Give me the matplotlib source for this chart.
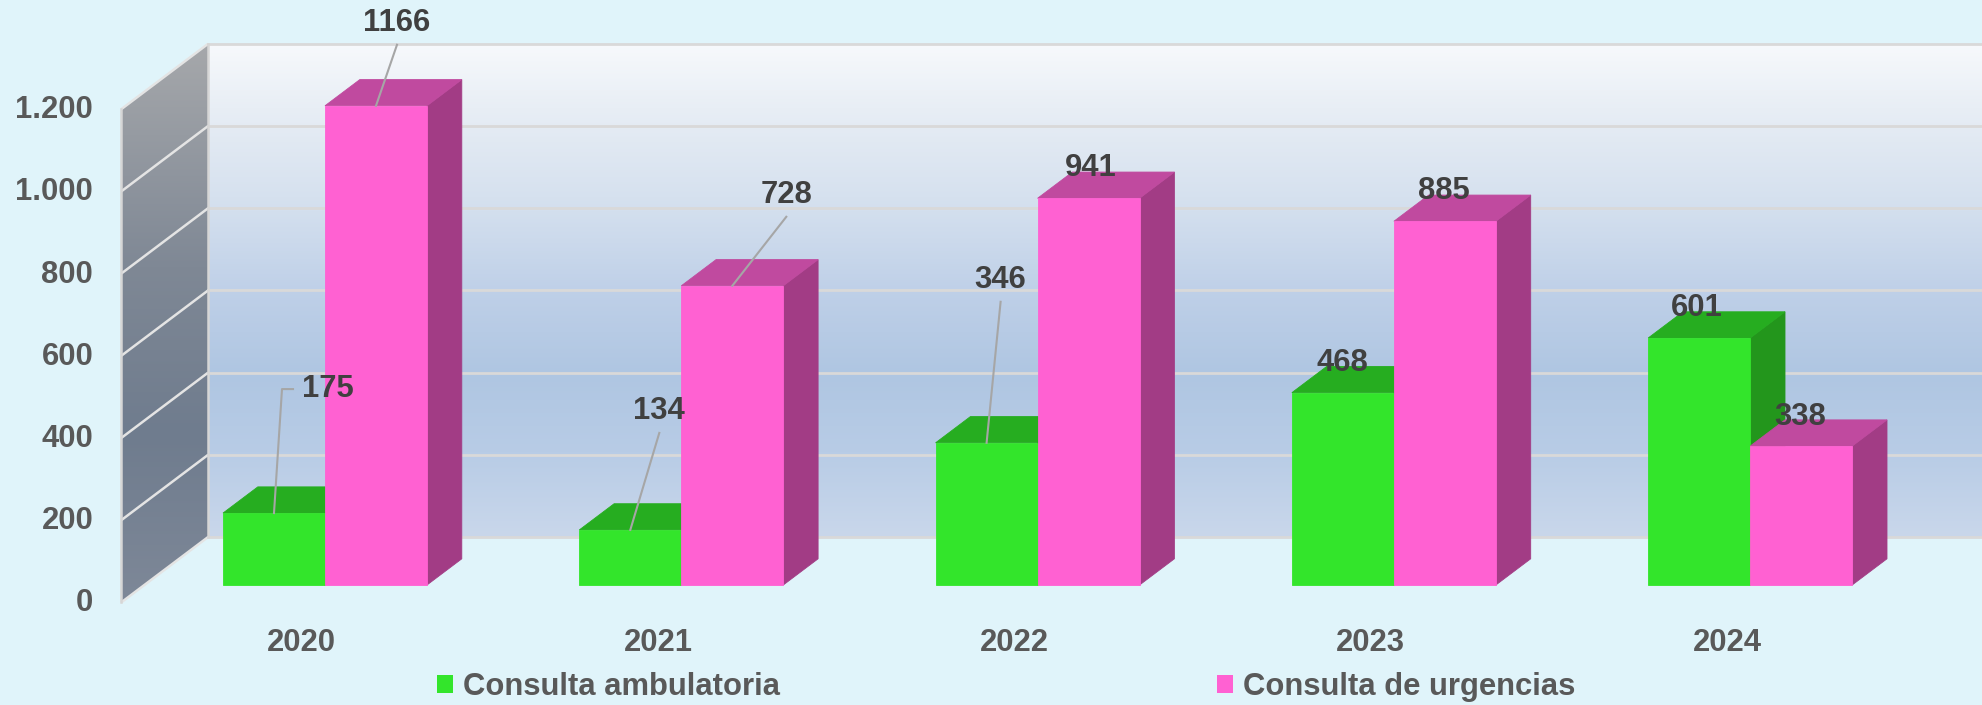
import numpy as np
import matplotlib
matplotlib.use('Agg')
import matplotlib.pyplot as plt
from matplotlib.patches import Polygon, Patch
from matplotlib.colors import LinearSegmentedColormap

# ---------------- data ----------------
years = ['2020', '2021', '2022', '2023', '2024']
ambulatoria = [175, 134, 346, 468, 601]
urgencias = [1166, 728, 941, 885, 338]
series_names = ['Consulta ambulatoria', 'Consulta de urgencias']
y_ticks = [0, 200, 400, 600, 800, 1000, 1200]
y_tick_labels = ['0', '200', '400', '600', '800', '1.000', '1.200']

# ---------------- styles / layout ----------------
W, H = 1982, 705
BG = '#E0F4FA'
GREEN = ('#33E52B', '#26AD20', '#23961C')   # front, top, side
PINK = ('#FF61D2', '#C04A9F', '#A23C85')
TXT_DARK = '#404040'
TXT_AX = '#595959'
GRID = '#D9D9D9'
FONT = 'Liberation Sans'
FS = 31 * 72 / 100  # 31 px

PX_PER_CAT = 356.3
PX_PER_VAL = 0.411
X0_PX = 325.0
Y0_PX = 585.0
DEPTH_X = 87.0 / PX_PER_CAT
DEPTH_Y = 65.5 / PX_PER_VAL
D0, D1 = 0.267, 0.667
BW = 102.0 / PX_PER_CAT
WALL_X = -0.507
VMAX = y_ticks[-1]

# label offsets in pixels (dx, dy upwards) from bar top-front centre
amb_label_off = [(54, 124), (29, 119), (14, 163), (-1, 30), (-2, 30)]
urg_label_off = [(21, 83), (54, 91), (2, 30), (-1, 30), (-1, 29)]
amb_leader = ['elbow', 'straight', 'straight', None, None]
urg_leader = ['straight', 'straight', None, None, None]

XMIN = -X0_PX / PX_PER_CAT
XMAX = (W - X0_PX) / PX_PER_CAT
YMIN = -(H - Y0_PX) / PX_PER_VAL
YMAX = Y0_PX / PX_PER_VAL


def proj(x, v, d):
    return (x + (d - D0) * DEPTH_X, v + (d - D0) * DEPTH_Y)


def px(x, v, dxp, dyp):
    return (x + dxp / PX_PER_CAT, v + dyp / PX_PER_VAL)


fig = plt.figure(figsize=(W / 100, H / 100), dpi=100, facecolor=BG)
ax = fig.add_axes([0, 0, 1, 1])
ax.set_facecolor(BG)
ax.axis('off')


def gradient_fill(pts, stops, z):
    poly = Polygon(pts, closed=True, facecolor='none', edgecolor='none', zorder=z)
    ax.add_patch(poly)
    xs = [p[0] for p in pts]
    vs = [p[1] for p in pts]
    cmap = LinearSegmentedColormap.from_list('g', stops)
    grad = np.linspace(0, 1, 256).reshape(-1, 1)
    im = ax.imshow(grad, cmap=cmap, extent=(min(xs), max(xs), min(vs), max(vs)),
                   origin='lower', aspect='auto', zorder=z, interpolation='bilinear')
    im.set_clip_path(poly)


# side wall
side = [proj(WALL_X, 0, 0), proj(WALL_X, VMAX, 0), proj(WALL_X, VMAX, 1), proj(WALL_X, 0, 1)]
gradient_fill(side, [(0, '#7E8898'), (0.3, '#6F7C8E'), (0.6, '#7F8895'), (1, '#A6A8AB')], 1)

# back wall
XR = XMAX + 1
back = [proj(WALL_X, 0, 1), proj(WALL_X, VMAX, 1), proj(XR, VMAX, 1), proj(XR, 0, 1)]
gradient_fill(back, [(0, '#C9D7EB'), (0.17, '#B8CCE6'), (0.33, '#AFC6E2'), (0.5, '#BFD0E8'),
                     (0.66, '#D3DFEE'), (0.87, '#E8EEF5'), (1, '#F7F9FC')], 1)

# grid lines
for v in y_ticks:
    a = proj(WALL_X, v, 0)
    b = proj(WALL_X, v, 1)
    c = proj(XR, v, 1)
    ax.plot([a[0], b[0]], [a[1], b[1]], color='#E4E4E4', lw=1.8, zorder=2, solid_capstyle='butt')
    ax.plot([b[0], c[0]], [b[1], c[1]], color=GRID, lw=2.0, zorder=2)
# wall edges
for d in (0, 1):
    a = proj(WALL_X, 0, d)
    b = proj(WALL_X, VMAX, d)
    ax.plot([a[0], b[0]], [a[1], b[1]], color='#D6D6D6', lw=1.8, zorder=2)


def draw_bar(x0, x1, v, cols, z):
    front = [proj(x0, 0, D0), proj(x1, 0, D0), proj(x1, v, D0), proj(x0, v, D0)]
    top = [proj(x0, v, D0), proj(x1, v, D0), proj(x1, v, D1), proj(x0, v, D1)]
    sidef = [proj(x1, 0, D0), proj(x1, 0, D1), proj(x1, v, D1), proj(x1, v, D0)]
    for pts, c in ((sidef, cols[2]), (top, cols[1]), (front, cols[0])):
        ax.add_patch(Polygon(pts, closed=True, facecolor=c, edgecolor=c, lw=0.6, zorder=z))


z = 3
for i in range(len(years)):
    draw_bar(i - BW, i, ambulatoria[i], GREEN, z)
    z += 1
    draw_bar(i, i + BW, urgencias[i], PINK, z)
    z += 1

# data labels with leader lines
for vals, offs, leads, xc in ((ambulatoria, amb_label_off, amb_leader, -BW / 2),
                              (urgencias, urg_label_off, urg_leader, BW / 2)):
    for i, v in enumerate(vals):
        bx, bv = i + xc, v
        lx, lv = px(bx, bv, *offs[i])
        ax.text(lx, lv, str(v), ha='center', va='center', fontsize=FS, fontweight='bold',
                family=FONT, color=TXT_DARK, zorder=50)
        if leads[i] == 'straight':
            s = px(lx, lv, 0, -22)
            ax.plot([s[0], bx], [s[1], bv], color='#A6A6A6', lw=1.5, zorder=49)
        elif leads[i] == 'elbow':
            s = px(lx, lv, -35, 0)
            c = px(lx, lv, -46, 0)
            ax.plot([s[0], c[0], bx], [s[1], c[1], bv], color='#A6A6A6', lw=1.5, zorder=49)

# y tick labels
for v, t in zip(y_ticks, y_tick_labels):
    x, vv = px(*proj(WALL_X, v, 0), -28, -1)
    ax.text(x, vv, t, ha='right', va='center', fontsize=FS, fontweight='bold',
            family=FONT, color=TXT_AX)

# category labels
for i, yr in enumerate(years):
    x, vv = px(*proj(i, 0, 0), 0, -40.5)
    ax.text(x, vv, yr, ha='center', va='center', fontsize=FS, fontweight='bold',
            family=FONT, color=TXT_AX)

ax.set_xlim(XMIN, XMAX)
ax.set_ylim(YMIN, YMAX)

handles = [Patch(facecolor=GREEN[0], edgecolor='none'), Patch(facecolor=PINK[0], edgecolor='none')]
leg = ax.legend(handles, series_names, loc='center left', bbox_to_anchor=(437 / W, 1 - 687 / H),
                bbox_transform=fig.transFigure, ncol=2, frameon=False,
                handlelength=0.52, handleheight=0.52, handletextpad=0.32, columnspacing=14.1,
                borderpad=0, borderaxespad=0,
                prop={'family': FONT, 'weight': 'bold', 'size': FS})
for t in leg.get_texts():
    t.set_color(TXT_AX)

fig.savefig('out.png', dpi=100, facecolor=BG)
